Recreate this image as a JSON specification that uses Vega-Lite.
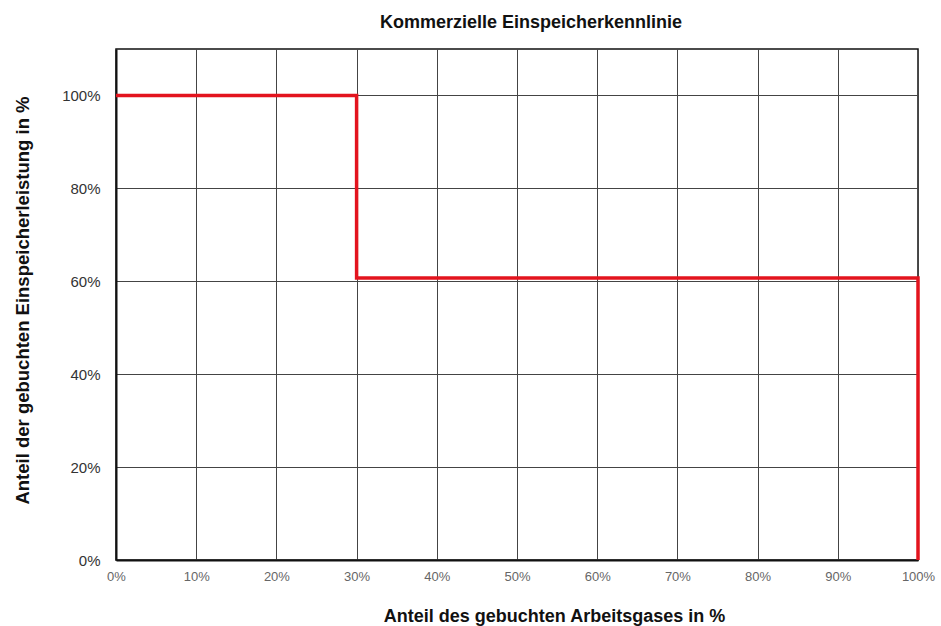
{
  "$schema": "https://vega.github.io/schema/vega-lite/v6.json",
  "width": 802,
  "height": 511,
  "autosize": {"type": "none"},
  "padding": {"left": 116, "top": 49, "right": 23, "bottom": 66},
  "background": "white",
  "config": {
    "font": "Liberation Sans",
    "view": {"stroke": "#111", "strokeWidth": 1.5}
  },
  "title": {
    "text": "Kommerzielle Einspeicherkennlinie",
    "fontSize": 18,
    "fontWeight": "bold",
    "color": "#111",
    "dx": 14,
    "offset": 17
  },
  "data": {
    "values": [
      {"x": 0, "y": 100, "o": 0},
      {"x": 30, "y": 100, "o": 1},
      {"x": 30, "y": 60.7, "o": 2},
      {"x": 100, "y": 60.7, "o": 3},
      {"x": 100, "y": 0, "o": 4}
    ]
  },
  "mark": {"type": "line", "color": "#e3141e", "strokeWidth": 3.5, "strokeJoin": "miter", "clip": false},
  "encoding": {
    "order": {"field": "o", "type": "quantitative"},
    "x": {
      "field": "x",
      "type": "quantitative",
      "scale": {"domain": [0, 100], "nice": false, "zero": false},
      "axis": {
        "values": [0, 10, 20, 30, 40, 50, 60, 70, 80, 90, 100],
        "labelExpr": "datum.value + '%'",
        "title": "Anteil des gebuchten Arbeitsgases in %",
        "titleFontSize": 18,
        "titleFontWeight": "bold",
        "titleColor": "#111",
        "titleX": 438,
        "titleY": 56,
        "titleBaseline": "middle",
        "labelFontSize": 13,
        "labelColor": "#666",
        "labelPadding": 10,
        "ticks": false,
        "domainColor": "#111",
        "domainWidth": 2,
        "grid": true,
        "gridColor": "#444",
        "gridWidth": 1,
        "labelFlush": false
      }
    },
    "y": {
      "field": "y",
      "type": "quantitative",
      "scale": {"domain": [0, 110], "nice": false, "zero": true},
      "axis": {
        "values": [0, 20, 40, 60, 80, 100],
        "labelExpr": "datum.value + '%'",
        "title": "Anteil der gebuchten Einspeicherleistung in %",
        "titleFontSize": 18.5,
        "titleFontWeight": "bold",
        "titleColor": "#111",
        "titleX": -94,
        "titleY": 251,
        "titleAngle": -90,
        "titleBaseline": "middle",
        "labelFontSize": 15,
        "labelColor": "#333",
        "labelPadding": 16,
        "ticks": false,
        "domainColor": "#111",
        "domainWidth": 2,
        "grid": true,
        "gridColor": "#444",
        "gridWidth": 1
      }
    }
  }
}
